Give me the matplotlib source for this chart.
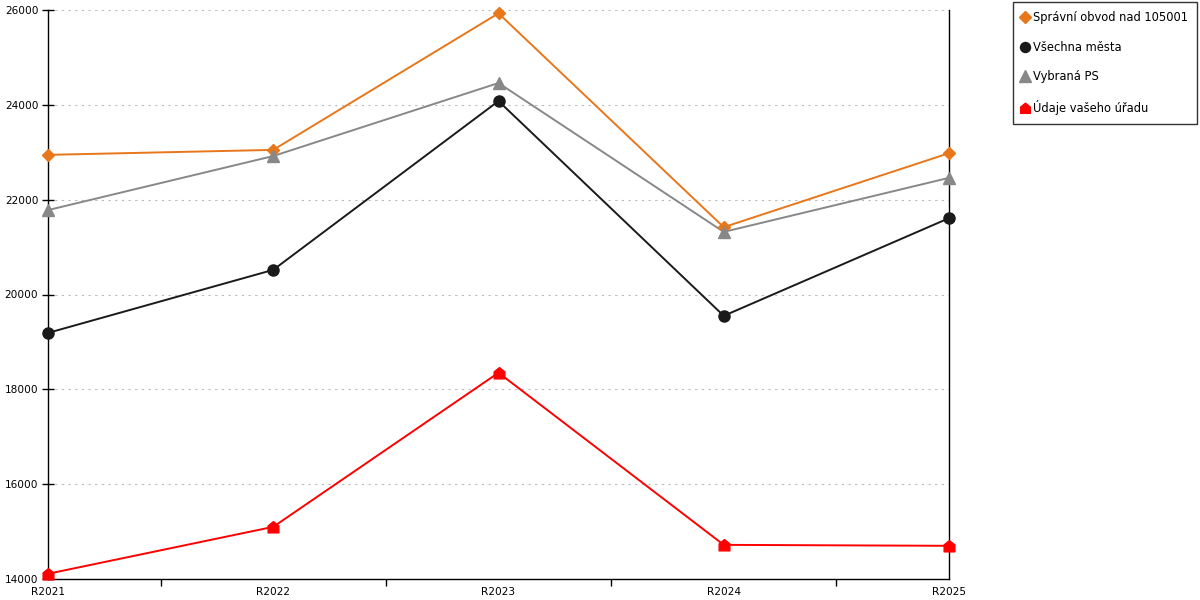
import matplotlib
matplotlib.use("Agg")
import matplotlib.pyplot as plt
from matplotlib.path import Path
import numpy as np

categories = ["R2021", "R2022", "R2023", "R2024", "R2025"]
spravni_obvod = [22945, 23050, 25930, 21420, 22980]
vsechna_mesta = [19190, 20520, 24080, 19550, 21610]
vybrana_ps = [21780, 22920, 24460, 21320, 22460]
udaje_uradu = [14110, 15100, 18350, 14720, 14700]

series_names = ["Správní obvod nad 105001", "Všechna města", "Vybraná PS", "Údaje vašeho úřadu"]

house = Path([(-1, -1), (1, -1), (1, 0.3), (0, 1.1), (-1, 0.3), (-1, -1)],
             [Path.MOVETO, Path.LINETO, Path.LINETO, Path.LINETO, Path.LINETO, Path.CLOSEPOLY])

plt.rcParams['font.family'] = ['DejaVu Sans']
fig = plt.figure(figsize=(12, 6), dpi=100)
ax = fig.add_axes([48/1200, 21/600, (949-48)/1200, (579-10)/600])

x = np.arange(len(categories))
styles = [
    (spravni_obvod, '#E8761A', 'D', 6.5),
    (vsechna_mesta, '#1a1a1a', 'o', 8),
    (vybrana_ps, '#888888', '^', 9),
    (udaje_uradu, '#FF0000', house, 8.5),
]
handles = []
for (vals, col, mk, ms), name in zip(styles, series_names):
    ax.plot(x, vals, color=col, lw=1.4, zorder=3, clip_on=False)
    h, = ax.plot(x, vals, linestyle='none', marker=mk, markersize=ms, color=col,
                 markeredgecolor=col, zorder=4, clip_on=False, label=name)
    handles.append(h)

ax.set_xlim(0, 4)
ax.set_ylim(14000, 26000)
ax.set_yticks(np.arange(14000, 26001, 2000))
ax.set_xticks(x)
ax.set_xticklabels(categories)
ax.set_xticks(np.arange(0.5, 4, 1), minor=True)
ax.tick_params(axis='x', which='major', length=0, pad=6, labelsize=7.6)
ax.tick_params(axis='x', which='minor', length=5, width=1, direction='out', color='black')
ax.tick_params(axis='y', which='major', length=8, width=1, direction='inout', pad=3, labelsize=7.6)
ax.yaxis.grid(True, color='#bbbbbb', linestyle=(0, (2, 4)), linewidth=0.8)
ax.set_axisbelow(True)
for s in ['left', 'bottom', 'right']:
    ax.spines[s].set_color('black')
    ax.spines[s].set_linewidth(1)
ax.spines['top'].set_visible(False)

leg = fig.legend(handles=handles, loc='upper left', bbox_to_anchor=(1013/1200, 0.997),
                 frameon=True, fancybox=False, edgecolor='black', fontsize=8.3,
                 handlelength=0.5, handletextpad=0.4, labelspacing=1.45,
                 borderpad=0.8, borderaxespad=0, markerscale=0.9)
leg.get_frame().set_linewidth(1)

fig.savefig("out.png", dpi=100)
